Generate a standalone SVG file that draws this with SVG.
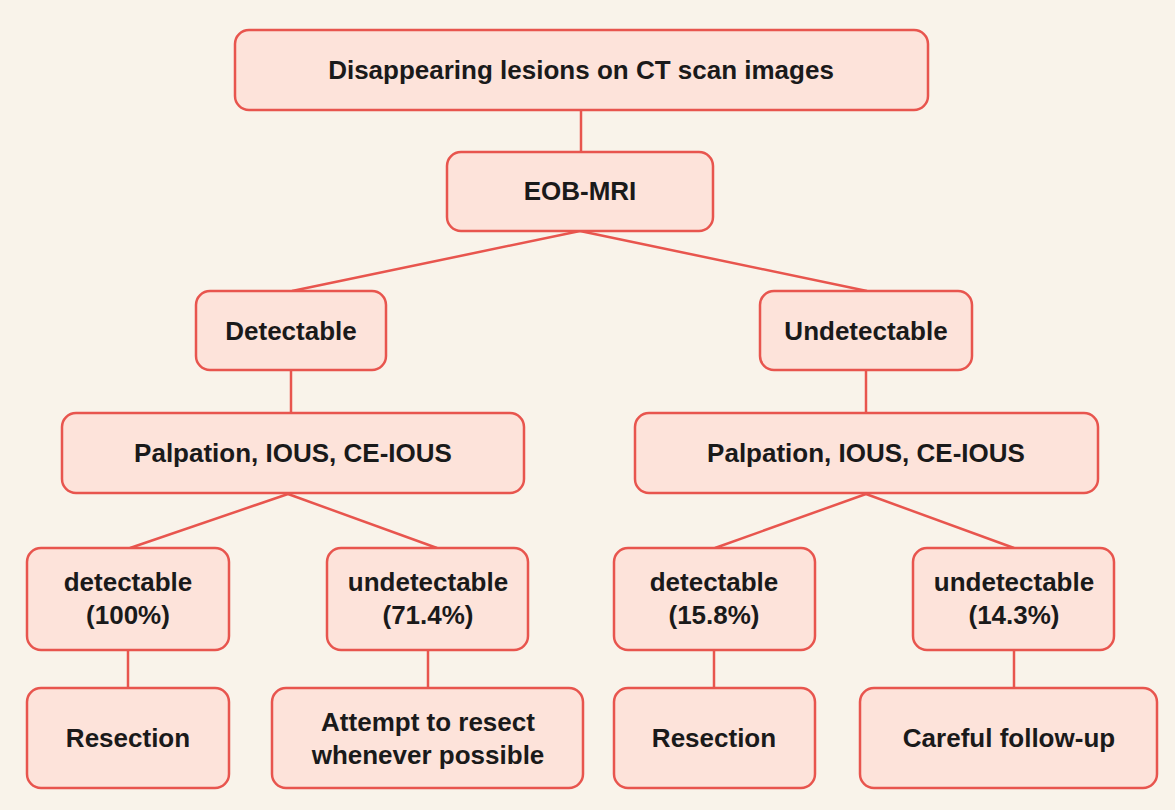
<svg xmlns="http://www.w3.org/2000/svg" width="1175" height="810" viewBox="0 0 1175 810">
<style>
.n{fill:#fde3da;stroke:#e8554e;stroke-width:2.5}
.t{font-family:"Liberation Sans",Arial,sans-serif;font-weight:bold;font-size:26px;fill:#1a1a1a;text-anchor:middle}
.c{stroke:#e8554e;stroke-width:2.5;fill:none}
</style>
<rect width="1175" height="810" fill="#f9f3ea"/>
<g id="connectors">
<line class="c" x1="581" y1="110" x2="581" y2="152"/>
<line class="c" x1="580" y1="231" x2="292" y2="291"/>
<line class="c" x1="580" y1="231" x2="867" y2="291"/>
<line class="c" x1="291" y1="370" x2="291" y2="413"/>
<line class="c" x1="866" y1="370" x2="866" y2="413"/>
<line class="c" x1="288" y1="494" x2="130" y2="548"/>
<line class="c" x1="288" y1="494" x2="437" y2="548"/>
<line class="c" x1="866" y1="494" x2="715" y2="548"/>
<line class="c" x1="866" y1="494" x2="1014" y2="548"/>
<line class="c" x1="128" y1="650" x2="128" y2="688"/>
<line class="c" x1="428" y1="650" x2="428" y2="688"/>
<line class="c" x1="714" y1="650" x2="714" y2="688"/>
<line class="c" x1="1014" y1="650" x2="1014" y2="688"/>
</g>
<g id="n1"><rect class="n" x="235" y="30" width="693" height="80" rx="14"/><text class="t" x="581" y="79">Disappearing lesions on CT scan images</text></g>
<g id="n2"><rect class="n" x="447" y="152" width="266" height="79" rx="14"/><text class="t" x="580" y="200">EOB-MRI</text></g>
<g id="n3"><rect class="n" x="196" y="291" width="190" height="79" rx="14"/><text class="t" x="291" y="340">Detectable</text></g>
<g id="n4"><rect class="n" x="760" y="291" width="212" height="79" rx="14"/><text class="t" x="866" y="340">Undetectable</text></g>
<g id="n5"><rect class="n" x="62" y="413" width="462" height="80" rx="14"/><text class="t" x="293" y="462">Palpation, IOUS, CE-IOUS</text></g>
<g id="n6"><rect class="n" x="635" y="413" width="463" height="80" rx="14"/><text class="t" x="866" y="462">Palpation, IOUS, CE-IOUS</text></g>
<g id="n7"><rect class="n" x="27" y="548" width="202" height="102" rx="14"/><text class="t" x="128" y="591">detectable</text><text class="t" x="128" y="624">(100%)</text></g>
<g id="n8"><rect class="n" x="327" y="548" width="201" height="102" rx="14"/><text class="t" x="428" y="591">undetectable</text><text class="t" x="428" y="624">(71.4%)</text></g>
<g id="n9"><rect class="n" x="614" y="548" width="201" height="102" rx="14"/><text class="t" x="714" y="591">detectable</text><text class="t" x="714" y="624">(15.8%)</text></g>
<g id="n10"><rect class="n" x="913" y="548" width="201" height="102" rx="14"/><text class="t" x="1014" y="591">undetectable</text><text class="t" x="1014" y="624">(14.3%)</text></g>
<g id="n11"><rect class="n" x="27" y="688" width="202" height="100" rx="14"/><text class="t" x="128" y="747">Resection</text></g>
<g id="n12"><rect class="n" x="272" y="688" width="311" height="100" rx="14"/><text class="t" x="428" y="731">Attempt to resect</text><text class="t" x="428" y="764">whenever possible</text></g>
<g id="n13"><rect class="n" x="614" y="688" width="201" height="100" rx="14"/><text class="t" x="714" y="747">Resection</text></g>
<g id="n14"><rect class="n" x="860" y="688" width="297" height="100" rx="14"/><text class="t" x="1009" y="747">Careful follow-up</text></g>
</svg>
